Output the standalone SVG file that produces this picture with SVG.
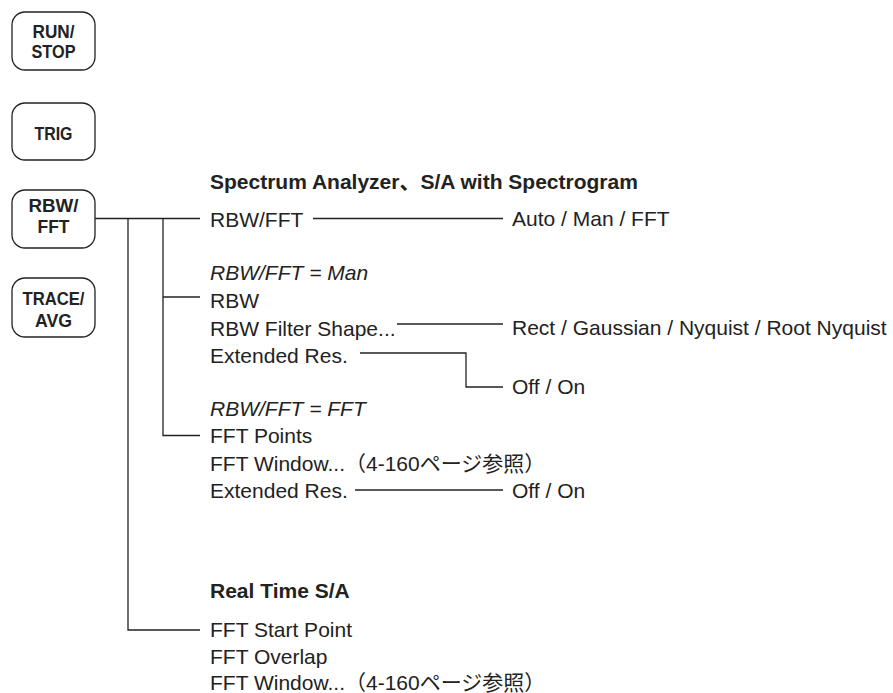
<svg xmlns="http://www.w3.org/2000/svg" width="893" height="693" viewBox="0 0 893 693">
<style>
.btn rect{fill:#fff;stroke:#222;stroke-width:1.3}
.btn text{font-family:"Liberation Sans",Arial,sans-serif;font-weight:bold;font-size:18.5px;fill:#222;text-anchor:middle}
.t{font-family:"Liberation Sans","Noto Sans CJK JP",sans-serif;font-size:21px;fill:#222}
.b{font-weight:bold}
.i{font-style:italic}
.c path{fill:none;stroke:#222;stroke-width:1.3}
</style>
<rect width="893" height="693" fill="#fff"/>
<g id="btn-runstop" class="btn"><rect x="12" y="12" width="83" height="58" rx="13"/><text x="53.5" y="38" textLength="42" lengthAdjust="spacingAndGlyphs">RUN/</text><text x="53.5" y="58" textLength="44" lengthAdjust="spacingAndGlyphs">STOP</text></g>
<g id="btn-trig" class="btn"><rect x="12" y="103" width="83" height="57" rx="13"/><text x="53.5" y="140" textLength="38" lengthAdjust="spacingAndGlyphs">TRIG</text></g>
<g id="btn-rbwfft" class="btn"><rect x="12" y="190" width="83" height="58" rx="13"/><text x="53.5" y="212" textLength="50" lengthAdjust="spacingAndGlyphs">RBW/</text><text x="53.5" y="233" textLength="32" lengthAdjust="spacingAndGlyphs">FFT</text></g>
<g id="btn-traceavg" class="btn"><rect x="12" y="278" width="83" height="59" rx="13"/><text x="53.5" y="305" textLength="62" lengthAdjust="spacingAndGlyphs">TRACE/</text><text x="53.5" y="327" textLength="37" lengthAdjust="spacingAndGlyphs">AVG</text></g>
<g id="connectors" class="c">
<path d="M95,218.5H200"/>
<path d="M128,218.5V630H200"/>
<path d="M163,218.5V435.5H200"/>
<path d="M163,297H200"/>
<path d="M313,218.5H503"/>
<path d="M397,324H503"/>
<path d="M360,353H466V387H503"/>
<path d="M355,490H503"/>
</g>
<g id="sa-header"><text class="t b" x="210" y="189">Spectrum Analyzer、S/A with Spectrogram</text></g>
<g id="rbwfft"><text class="t" x="210" y="227">RBW/FFT</text></g>
<g id="rbwfft-opt"><text class="t" x="512" y="226">Auto / Man / FFT</text></g>
<g id="cond-man"><text class="t i" x="210" y="280">RBW/FFT = Man</text></g>
<g id="rbw"><text class="t" x="210" y="308">RBW</text></g>
<g id="filter"><text class="t" x="210" y="336">RBW Filter Shape...</text></g>
<g id="filter-opt"><text class="t" x="512" y="335">Rect / Gaussian / Nyquist / Root Nyquist</text></g>
<g id="extres1"><text class="t" x="210" y="363">Extended Res.</text></g>
<g id="extres1-opt"><text class="t" x="512" y="394">Off / On</text></g>
<g id="cond-fft"><text class="t i" x="210" y="416">RBW/FFT = FFT</text></g>
<g id="fftpoints"><text class="t" x="210" y="443">FFT Points</text></g>
<g id="fftwindow1"><text class="t" x="210" y="471">FFT Window...（4-160ページ参照）</text></g>
<g id="extres2"><text class="t" x="210" y="498">Extended Res.</text></g>
<g id="extres2-opt"><text class="t" x="512" y="498">Off / On</text></g>
<g id="rt-header"><text class="t b" x="210" y="598">Real Time S/A</text></g>
<g id="fftstart"><text class="t" x="210" y="637">FFT Start Point</text></g>
<g id="fftoverlap"><text class="t" x="210" y="664">FFT Overlap</text></g>
<g id="fftwindow2"><text class="t" x="210" y="690">FFT Window...（4-160ページ参照）</text></g>
</svg>
